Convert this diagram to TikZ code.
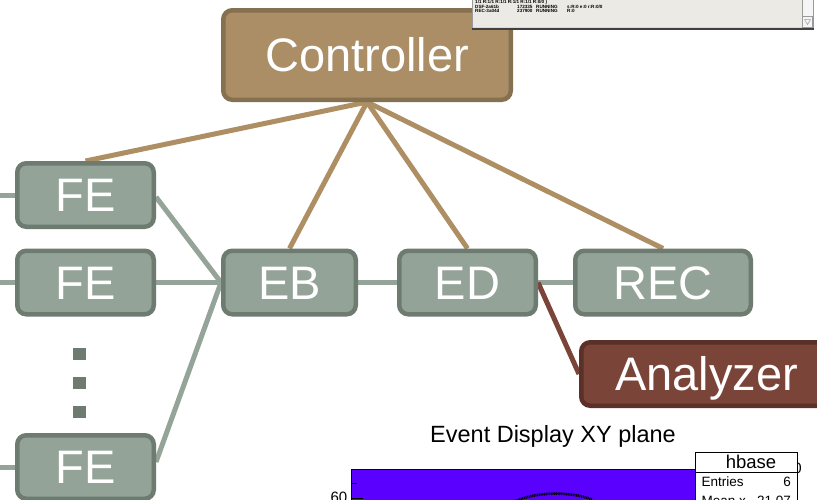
\documentclass[tikz,border=0pt]{standalone}
\usepackage{fontspec}
\setmainfont{Liberation Sans}
\usetikzlibrary{backgrounds}

\definecolor{fefill}{HTML}{93A397}
\definecolor{feedge}{HTML}{6E7B71}
\definecolor{felink}{HTML}{94A498}
\definecolor{ctrlfill}{HTML}{AB8E66}
\definecolor{ctrledge}{HTML}{85704F}
\definecolor{ctrllink}{HTML}{AE8F63}
\definecolor{anfill}{HTML}{7A4439}
\definecolor{anedge}{HTML}{5B3028}
\definecolor{winfill}{HTML}{ECEAE4}
\definecolor{winedge}{HTML}{9A9A9A}
\definecolor{histfill}{RGB}{90,0,255}

\newcommand\unitfont{\fontsize{47}{47}\selectfont}

\tikzset{
  stage/.style={rectangle, rounded corners=9pt, line width=4.5pt, inner sep=0pt,
    text=white, font=\unitfont, text height=33.7pt, text depth=0pt},
  feunit/.style={stage, fill=fefill, draw=feedge,
    minimum width=136.5pt, minimum height=63.5pt},
  ctrlunit/.style={stage, fill=ctrlfill, draw=ctrledge},
  anunit/.style={stage, fill=anfill, draw=anedge},
  datalink/.style={draw=felink, line width=5pt},
  ctrlline/.style={draw=ctrllink, line width=5pt},
  anline/.style={draw=anfill, line width=5pt},
  ellipsis/.style={rectangle, fill=feedge, minimum size=12.5pt, inner sep=0pt},
  tinytext/.style={font=\fontsize{4.6}{4.6}\selectfont\bfseries, inner sep=0pt, anchor=base west},
}

\begin{document}
\begin{tikzpicture}[x=1pt,y=-1pt]
\useasboundingbox (0,0) rectangle (817,499);
\clip (0,0) rectangle (817,499);

% --- DAQ units ---
\node[ctrlunit, minimum width=287.5pt, minimum height=89.5pt] (ctrl) at (367,55) {Controller};
\node[feunit] (fe1) at (85.5,195) {FE};
\node[feunit] (fe2) at (85.5,282.5) {FE};
\node[feunit] (fe3) at (85.5,467) {FE};
\node[feunit, minimum width=132.5pt] (eb) at (289.5,282.5) {EB};
\node[feunit] (ed) at (467.5,282.5) {ED};
\node[feunit, minimum width=175.5pt] (rec) at (663,282.5) {REC};
\node[anunit, minimum width=250.5pt, minimum height=63.5pt] (an) at (706.5,374) {Analyzer};

% vertical ellipsis between the front ends
\node[ellipsis] (dot1) at (79.5,354) {};
\node[ellipsis] (dot2) at (79.5,383) {};
\node[ellipsis] (dot3) at (79.5,412) {};

\coordinate (leftedge) at (-5,0);

% --- white page and connections (behind the units) ---
\begin{scope}[on background layer]
  \fill[white] (0,0) rectangle (817,499);
  \draw[ctrlline] (ctrl.south) -- (fe1.north);
  \draw[ctrlline] (ctrl.south) -- (eb.north);
  \draw[ctrlline] (ctrl.south) -- (ed.north);
  \draw[ctrlline] (ctrl.south) -- (rec.north);
  \draw[datalink] (fe1.west) -- (fe1.west -| leftedge);
  \draw[datalink] (fe2.west) -- (fe2.west -| leftedge);
  \draw[datalink] (fe3.west) -- (fe3.west -| leftedge);
  \draw[datalink] ([yshift=-2pt]fe1.east) -- (eb.west);
  \draw[datalink] (fe2.east) -- (eb.west);
  \draw[datalink] ([yshift=5pt]fe3.east) -- (eb.west);
  \draw[datalink] (eb.east) -- (ed.west);
  \draw[datalink] (ed.east) -- (rec.west);
  \draw[anline] (ed.east) -- (an.west);
\end{scope}

% --- status window ---
\fill[winfill] (472,-3) rectangle (813,28);
\draw[winedge, line width=1pt] (472.5,-3) -- (472.5,28);
\draw[black!75, line width=1.8pt] (471.5,29) -- (814,29);
\draw[white!85!black, line width=0.8pt] (473,27.3) -- (802,27.3);
\fill[white!96!black] (802,-3) rectangle (813,27.5);
\draw[winedge, line width=0.6pt] (802,-3) rectangle (813,27.5);
\draw[winedge, line width=0.6pt] (802.5,16.5) rectangle (812.5,27);
\draw[winedge, line width=0.5pt] (804.5,19.5) -- (810.5,19.5) -- (807.5,24.5) -- cycle;
\node[tinytext] at (475,3.5) {1/1 R:1/1 R:1/1 R:1/1 R:1/1 R:0/0 )};
\node[tinytext] at (475,8.3) {DSF-2a61b};
\node[tinytext] at (517,8.3) {172335};
\node[tinytext] at (536,8.3) {RUNNING};
\node[tinytext] at (567,8.3) {s:R:0 e:0 r:R:0/0};
\node[tinytext] at (475,12.6) {REC-3a04d};
\node[tinytext] at (517,12.6) {237900};
\node[tinytext] at (536,12.6) {RUNNING};
\node[tinytext] at (567,12.6) {R:0};

% --- event display histogram ---
\node[anchor=base, font=\fontsize{23.5}{23.5}\selectfont, inner sep=0pt] at (553,442.7) {Event Display XY plane};
\fill[histfill] (351,469) rectangle (700,505);
\draw[black, line width=0.8pt] (700,469) -- (351,469) -- (351,505);
\draw[black, line width=1pt] (351,498) -- (363,498);
\draw[black, line width=1pt] (351,483) -- (357,483);
\draw[black, line width=1.6pt] (351,469.5) -- (356,469.5);
\node[anchor=base east, font=\fontsize{15}{15}\selectfont, inner sep=0pt] at (347.5,502.5) {60};
\draw[black, line width=2.6pt, dash pattern=on 1pt off 0.7pt]
  (516,501) .. controls (535,492) and (570,491) .. (592,499.5);
\draw[black, line width=1pt, dash pattern=on 0.8pt off 1pt]
  (530,496) .. controls (545,492.5) and (565,492.5) .. (580,495.5);
\node[anchor=east, font=\fontsize{15}{15}\selectfont, inner sep=0pt] at (802,468) {0};
\fill[white] (695,452) rectangle (797,505);
\draw[black, line width=0.8pt] (695,505) -- (695,452) -- (797,452) -- (797,505);
\draw[black, line width=0.8pt] (695,472) -- (797,472);
\node[anchor=base, font=\fontsize{18.5}{18.5}\selectfont, inner sep=0pt] at (751,468) {hbase};
\node[anchor=base west, font=\fontsize{13.5}{13.5}\selectfont, inner sep=0pt] at (701.5,486) {Entries};
\node[anchor=base east, font=\fontsize{13.5}{13.5}\selectfont, inner sep=0pt] at (791,486) {6};
\node[anchor=base west, font=\fontsize{13.5}{13.5}\selectfont, inner sep=0pt] at (701.5,505.7) {Mean x};
\node[anchor=base east, font=\fontsize{13.5}{13.5}\selectfont, inner sep=0pt] at (791,505.7) {21.07};
\end{tikzpicture}
\end{document}
